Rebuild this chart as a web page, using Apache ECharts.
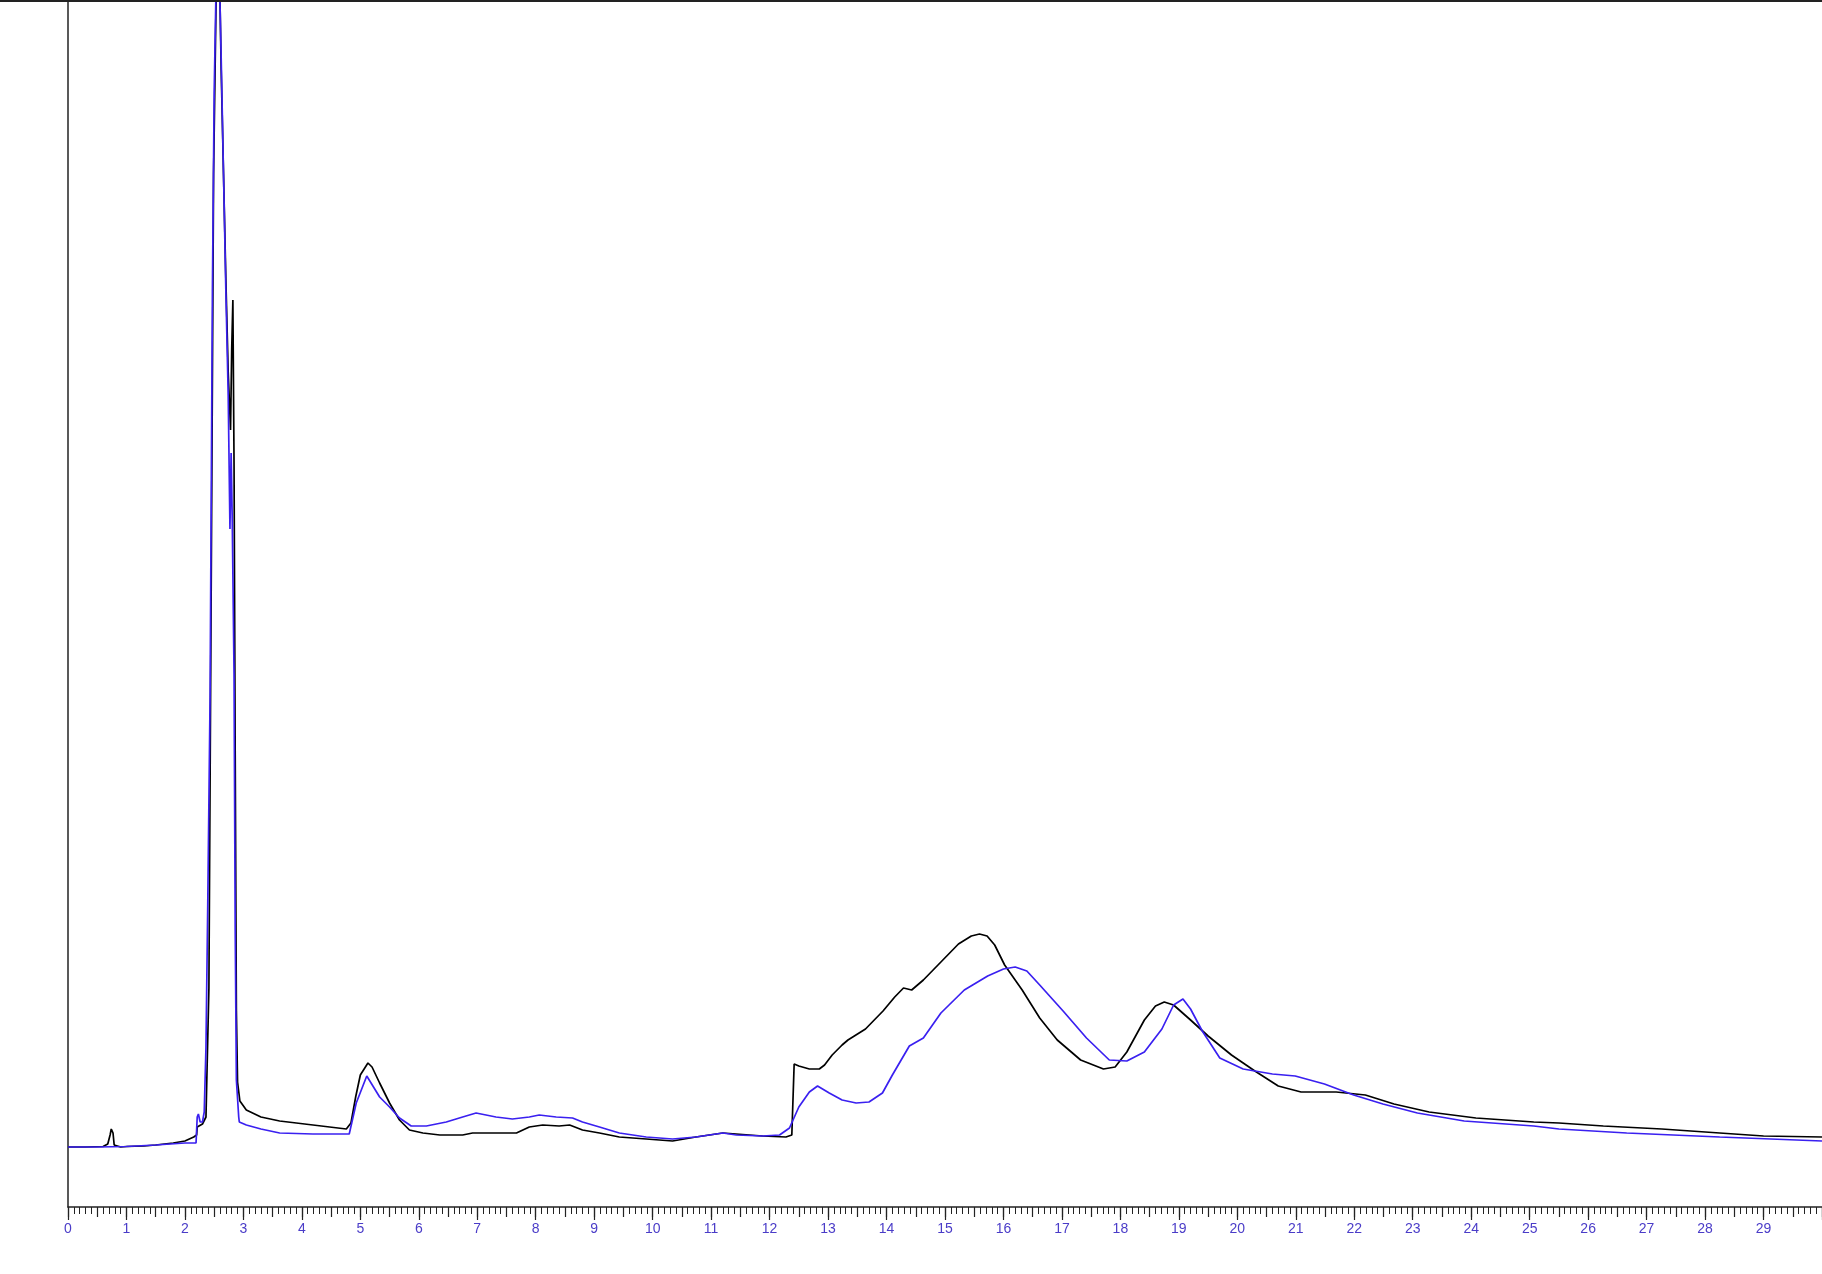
<!DOCTYPE html>
<html>
<head>
<meta charset="utf-8">
<script src="https://cdn.jsdelivr.net/npm/echarts@6/dist/echarts.min.js"></script>
<style>
html,body{margin:0;padding:0;background:#fff;}
#chart{width:1822px;height:1274px;}
</style>
</head>
<body>
<div id="chart"></div>
<script>
// Retention time (min) and detector response for the black trace
var timeBlack = [0,0.3,0.6,0.68,0.72,0.74,0.77,0.79,0.9,1.0,1.3,1.5,1.8,2.0,2.15,2.2,2.21,2.3,2.36,2.41,2.45,2.49,2.53,2.57,2.62,2.66,2.70,2.74,2.78,2.80,2.82,2.84,2.86,2.88,2.90,2.94,3.05,3.3,3.62,4.19,4.76,4.84,4.92,5.0,5.13,5.2,5.33,5.5,5.67,5.84,6.07,6.36,6.75,6.92,7.33,7.67,7.89,8.12,8.4,8.58,8.8,9.09,9.43,9.89,10.34,10.74,11.2,11.88,12.28,12.38,12.42,12.5,12.68,12.85,12.94,13.07,13.24,13.34,13.64,13.94,14.14,14.29,14.43,14.63,14.93,15.23,15.45,15.59,15.72,15.85,16.02,16.32,16.62,16.92,17.32,17.71,17.91,18.11,18.41,18.6,18.75,18.91,19.2,19.5,19.9,20.3,20.7,21.09,21.69,22.19,22.68,23.28,24.08,25.07,25.5,26.26,27.26,28.25,29.0,30];
var valBlack = [0,0,0.05,0.3,1.2,1.8,1.4,0.2,0,0.05,0.1,0.2,0.4,0.6,1.0,1.2,2.0,2.3,3.0,15.9,56.6,97.3,113.5,125,107.7,97.3,86.8,77.5,71.7,79.8,84.7,68.2,39.2,13.6,6.5,4.6,3.7,3.0,2.6,2.2,1.8,2.4,5.0,7.2,8.4,8.0,6.4,4.4,2.7,1.7,1.4,1.2,1.2,1.4,1.4,1.4,2.0,2.2,2.1,2.2,1.7,1.4,1.0,0.8,0.6,1.0,1.4,1.1,1.0,1.2,8.3,8.1,7.8,7.8,8.2,9.2,10.2,10.7,11.8,13.6,15.0,15.9,15.7,16.7,18.5,20.3,21.1,21.3,21.1,20.2,18.2,15.7,12.9,10.7,8.7,7.8,8.0,9.5,12.7,14.1,14.5,14.2,12.7,11.1,9.2,7.6,6.1,5.5,5.5,5.2,4.3,3.5,2.9,2.5,2.4,2.1,1.8,1.4,1.1,1.0];

// Retention time (min) and detector response for the blue trace
var timeBlue = [0,0.5,1.0,1.5,2.0,2.19,2.21,2.23,2.26,2.3,2.33,2.36,2.39,2.43,2.47,2.50,2.56,2.62,2.66,2.70,2.74,2.77,2.79,2.81,2.84,2.86,2.88,2.92,2.93,3.05,3.3,3.62,4.19,4.81,4.93,5.11,5.33,5.5,5.67,5.87,6.13,6.47,6.75,6.98,7.32,7.6,7.89,8.06,8.35,8.63,8.8,9.09,9.43,9.89,10.34,10.74,11.2,11.43,11.88,12.17,12.34,12.5,12.68,12.82,13.02,13.24,13.48,13.7,13.93,14.1,14.39,14.63,14.93,15.33,15.73,16.0,16.2,16.4,16.62,17.02,17.42,17.81,18.11,18.41,18.71,18.91,19.07,19.2,19.4,19.7,20.1,20.6,20.99,21.49,21.99,22.49,23.08,23.88,25.07,25.5,26.66,28.25,30];
var valBlue = [0,0,0.05,0.2,0.4,0.4,3.0,3.3,2.5,2.5,3.5,10,24.1,45.0,85.6,105.4,125,108.9,97.3,85.6,75.2,61.8,69.4,62.4,47.3,21.7,6.7,3.0,2.5,2.2,1.8,1.4,1.3,1.3,4.4,7.1,5.0,4.0,2.9,2.1,2.1,2.5,3.0,3.4,3.0,2.8,3.0,3.2,3.0,2.9,2.5,2.0,1.4,1.0,0.8,1.0,1.4,1.2,1.1,1.2,1.9,4.0,5.5,6.1,5.4,4.7,4.4,4.5,5.4,7.2,10.1,10.9,13.4,15.7,17.1,17.8,18.0,17.6,16.2,13.6,10.9,8.7,8.6,9.5,11.8,14.2,14.8,13.8,11.6,8.9,7.8,7.3,7.1,6.3,5.2,4.3,3.4,2.6,2.1,1.8,1.4,1.0,0.6];

// X axis tick labels (minutes)
var xTickLabels = ['0','1','2','3','4','5','6','7','8','9','10','11','12','13','14','15','16','17','18','19','20','21','22','23','24','25','26','27','28','29'];

function pairs(t, v) { var out = []; for (var i = 0; i < t.length; i++) out.push([t[i], v[i]]); return out; }

var chart = echarts.init(document.getElementById('chart'), null, {renderer: 'canvas'});
chart.setOption({
  animation: false,
  backgroundColor: '#ffffff',
  grid: {left: 68, right: 0, top: 0, bottom: 67},
  xAxis: [{
    type: 'value', min: 0, max: 30, interval: 1, position: 'bottom',
    axisLine: {show: true, onZero: false, lineStyle: {color: '#222', width: 1.5}},
    axisTick: {show: true, length: 13, lineStyle: {color: '#222', width: 1.2}},
    minorTick: {show: true, splitNumber: 10, length: 7, lineStyle: {color: '#222', width: 1}},
    axisLabel: {
      show: true, margin: 15, color: '#4a3cc8', fontFamily: 'Liberation Sans, Arial', fontSize: 14,
      showMaxLabel: false,
      formatter: function (v) { var i = Math.round(v); return (i >= 0 && i < xTickLabels.length) ? xTickLabels[i] : ''; }
    },
    splitLine: {show: false}
  }, {
    type: 'value', min: 0, max: 30, interval: 0.5, position: 'bottom',
    axisLine: {show: false, onZero: false},
    axisTick: {show: true, length: 10, lineStyle: {color: '#222', width: 1.2}},
    axisLabel: {show: false},
    splitLine: {show: false}
  }],
  yAxis: {
    type: 'value', min: -6, max: 114.7,
    axisLine: {show: true, onZero: false, lineStyle: {color: '#222', width: 1.5}},
    axisTick: {show: false}, axisLabel: {show: false}, splitLine: {show: false}
  },
  graphic: [{
    type: 'line', shape: {x1: 0, y1: 1, x2: 1822, y2: 1},
    style: {stroke: '#222', lineWidth: 2}, z: 100
  }],
  series: [{
    type: 'line', xAxisIndex: 0, data: pairs(timeBlack, valBlack),
    showSymbol: false, clip: true, lineStyle: {color: '#000000', width: 1.7}, z: 2
  }, {
    type: 'line', xAxisIndex: 0, data: pairs(timeBlue, valBlue),
    showSymbol: false, clip: true, lineStyle: {color: '#3a20f0', width: 1.7}, z: 3
  }]
});
</script>
</body>
</html>
